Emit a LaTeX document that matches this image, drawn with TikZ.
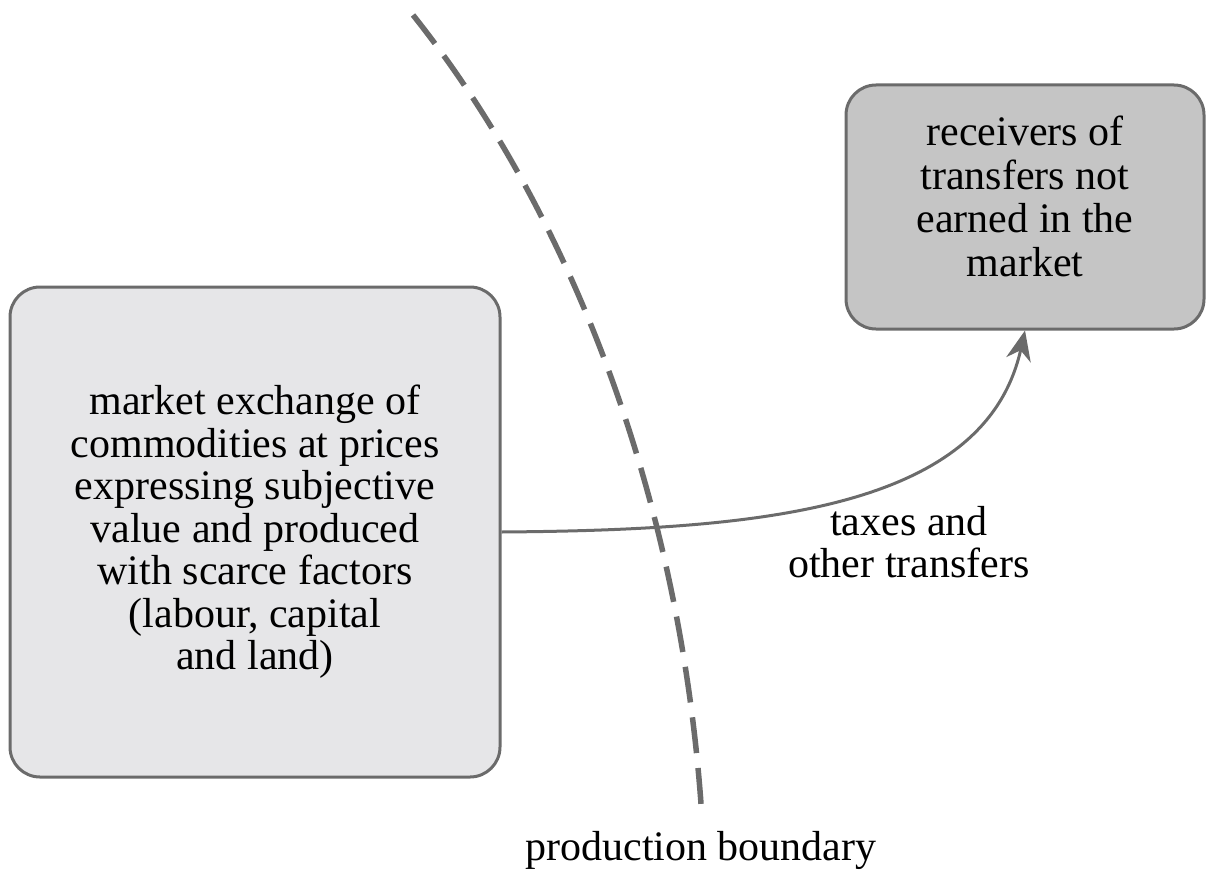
\documentclass[tikz,border=0pt]{standalone}
\usepackage{fontspec}
\setmainfont{Liberation Serif}
\usetikzlibrary{arrows.meta}
\definecolor{edgegray}{HTML}{6B6B6B}
\definecolor{lightfill}{HTML}{E6E6E8}
\definecolor{darkfill}{HTML}{C5C5C5}
\begin{document}
\begin{tikzpicture}[x=1pt,y=-1pt,
  box/.style={draw=edgegray,line width=3pt,rounded corners=30pt,align=center,inner sep=0pt},
  lbl/.style={align=center,inner sep=0pt},
  big/.style={font=\fontsize{42}{42.5}\selectfont},
  bigr/.style={font=\fontsize{42}{43.5}\selectfont}]
\useasboundingbox (0,0) rectangle (1206,872);
\node[box,fill=lightfill,minimum width=490pt,minimum height=490pt,big] (left) at (255,532)
  {market exchange of\\commodities at prices\\expressing subjective\\value and produced\\with scarce factors\\(labour, capital\\and land)};
\node[box,fill=darkfill,minimum width=358pt,minimum height=244pt,bigr] (right) at (1025,207)
  {receivers of\\transfers not\\earned in the\\market\rule[-22pt]{0pt}{22pt}};
\coordinate (dtop) at (413,15);
\coordinate (dbot) at (702,818);
\draw[edgegray,line width=5.5pt,dash pattern=on 36pt off 15pt] (dtop) .. controls (560,200) and (680,480) .. (dbot);
\draw[edgegray,line width=3pt,-{Stealth[length=30pt,width=25pt]}] (left.east) .. controls (760,530) and (985,510) .. (right.south);
\node[lbl,big] (taxes) at (909,542) {taxes and\\other transfers};
\node[lbl,big,anchor=base] (pb) at (701,860) {production boundary};
\end{tikzpicture}
\end{document}
